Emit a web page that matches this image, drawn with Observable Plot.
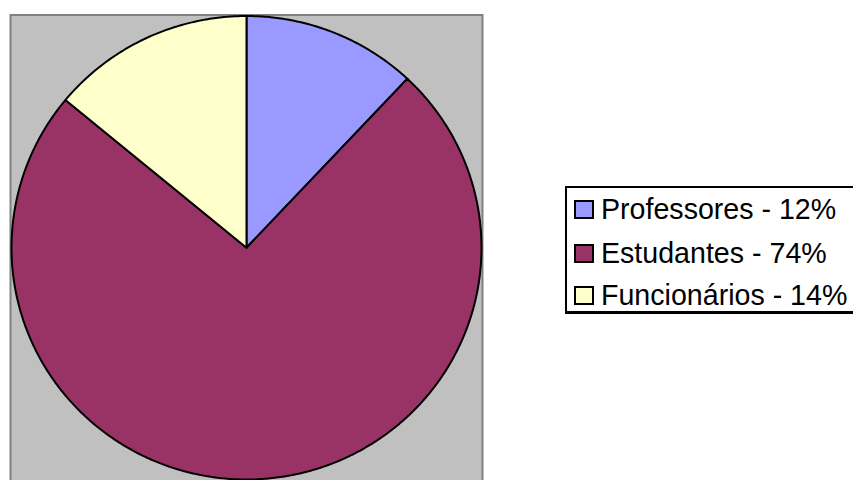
<!DOCTYPE html>
<html>
<head>
<meta charset="utf-8">
<script src="https://cdn.jsdelivr.net/npm/d3@7"></script>
<script src="https://cdn.jsdelivr.net/npm/@observablehq/plot@0.6"></script>
<style>
  html, body { margin: 0; padding: 0; background: #fff; }
  #wrap { position: relative; width: 853px; height: 480px; overflow: hidden; }
  #legend { position: absolute; left: 565px; top: 186px; width: 300px; height: 128px;
            border: 2px solid #000; border-bottom-width: 3px; background: #fff; box-sizing: border-box;
            font-family: "Liberation Sans", Arial, sans-serif; font-size: 28.6px; color: #000; }
  .row { position: absolute; left: 0; height: 30px; display: flex; align-items: center; white-space: nowrap; }
  .sw { width: 16px; height: 15px; border: 2px solid #000; margin-left: 7px; margin-right: 7px; }
</style>
</head>
<body>
<div id="wrap"><div id="chart"></div><div id="legend"></div></div>
<script>
const categories = ["Professores", "Estudantes", "Funcionários"];
const shares = [12, 74, 14];
const legendLabels = ["Professores - 12%", "Estudantes - 74%", "Funcionários - 14%"];
const colors = ["#9999FF", "#993366", "#FFFFCC"];

const arcs = d3.pie().sort(null).value((d, i) => shares[i])(categories);
const pts = [];
arcs.forEach((a, i) => {
  const cat = categories[i];
  pts.push({cat, x: 0, y: 0});
  const n = Math.max(2, Math.ceil((a.endAngle - a.startAngle) / (Math.PI / 360)));
  for (let k = 0; k <= n; k++) {
    const t = a.startAngle + (a.endAngle - a.startAngle) * k / n;
    pts.push({cat, x: Math.sin(t), y: Math.cos(t)});
  }
});

const chart = Plot.plot({
  width: 853,
  height: 480,
  marginLeft: 11,
  marginRight: 372,
  marginTop: 15.5,
  marginBottom: 1,
  x: {domain: [-1, 1], axis: null},
  y: {domain: [-1, 1], axis: null},
  color: {domain: categories, range: colors},
  marks: [
    Plot.frame({fill: "#C0C0C0", stroke: "#808080", strokeWidth: 2, insetLeft: -1, insetRight: -1, insetTop: -1, insetBottom: -12}),
    Plot.line(pts, {x: "x", y: "y", z: "cat", fill: "cat", stroke: "#000", strokeWidth: 2, curve: "linear-closed", strokeLinejoin: "round"})
  ]
});
document.getElementById("chart").appendChild(chart);

const legend = document.getElementById("legend");
const rowTops = [6, 50, 92];
legendLabels.forEach((lab, i) => {
  const r = document.createElement("div");
  r.className = "row";
  r.style.top = rowTops[i] + "px";
  const sw = document.createElement("div");
  sw.className = "sw";
  sw.style.background = colors[i];
  const tx = document.createElement("span");
  tx.textContent = lab;
  r.appendChild(sw);
  r.appendChild(tx);
  legend.appendChild(r);
});
</script>
</body>
</html>
